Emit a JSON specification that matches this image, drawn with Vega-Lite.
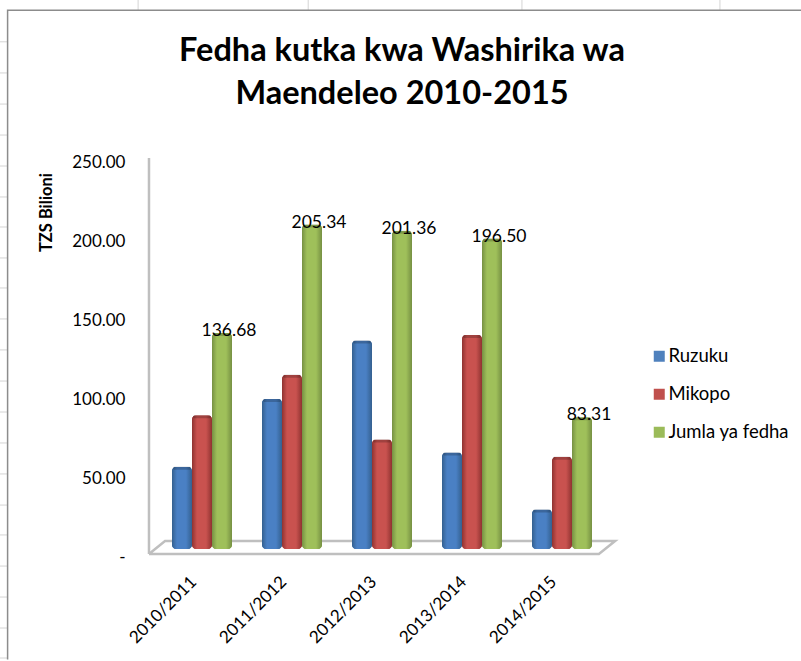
{
"$schema":"https://vega.github.io/schema/vega-lite/v6.json",
"width":450,"height":395,
"autosize":{"type":"none"},
"padding":{"left":157,"top":154,"right":194,"bottom":112},
"background":"white",
"view":{"stroke":null},
"title":{"text":["Fedha kutka kwa Washirika wa","Maendeleo 2010-2015"],"font":"Lato","fontSize":32.5,"fontWeight":"bold","color":"black","anchor":"middle","dx":20,"offset":-113,"lineHeight":43},
"config":{"font":"Lato"},
"datasets":{
"bars":[
{"year":"2010/2011","series":"Ruzuku","value":52.0},
{"year":"2010/2011","series":"Mikopo","value":84.68},
{"year":"2010/2011","series":"Jumla ya fedha","value":136.68},
{"year":"2011/2012","series":"Ruzuku","value":95.0},
{"year":"2011/2012","series":"Mikopo","value":110.34},
{"year":"2011/2012","series":"Jumla ya fedha","value":205.34},
{"year":"2012/2013","series":"Ruzuku","value":132.0},
{"year":"2012/2013","series":"Mikopo","value":69.36},
{"year":"2012/2013","series":"Jumla ya fedha","value":201.36},
{"year":"2013/2014","series":"Ruzuku","value":61.0},
{"year":"2013/2014","series":"Mikopo","value":135.5},
{"year":"2013/2014","series":"Jumla ya fedha","value":196.5},
{"year":"2014/2015","series":"Ruzuku","value":25.0},
{"year":"2014/2015","series":"Mikopo","value":58.31},
{"year":"2014/2015","series":"Jumla ya fedha","value":83.31}
],
"floor":[
{"u":-1.78,"v":247.5,"part":"wall"},{"u":-1.78,"v":-3.2,"part":"wall"},
{"u":-1.78,"v":-3.2,"part":"floor"},{"u":98.2,"v":-3.2,"part":"floor"},{"u":101.8,"v":5,"part":"floor"},{"u":1.78,"v":5,"part":"floor"},{"u":-1.78,"v":-3.2,"part":"floor"}
],
"frame":[
{"u":-33.2,"v":-70,"part":"a"},{"u":-33.2,"v":341,"part":"a"},{"u":145,"v":341,"part":"a"}
],
"sheet":[
{"u":-34.9,"v":321,"part":"r1"},{"u":-33.2,"v":321,"part":"r1"},
{"u":-34.9,"v":301.3,"part":"r2"},{"u":-33.2,"v":301.3,"part":"r2"},
{"u":-34.9,"v":281.6,"part":"r3"},{"u":-33.2,"v":281.6,"part":"r3"},
{"u":-34.9,"v":262,"part":"r4"},{"u":-33.2,"v":262,"part":"r4"},
{"u":-34.9,"v":242.4,"part":"r5"},{"u":-33.2,"v":242.4,"part":"r5"},
{"u":-34.9,"v":222.8,"part":"r6"},{"u":-33.2,"v":222.8,"part":"r6"},
{"u":-34.9,"v":203.8,"part":"r7"},{"u":-33.2,"v":203.8,"part":"r7"},
{"u":-34.9,"v":184.2,"part":"r8"},{"u":-33.2,"v":184.2,"part":"r8"},
{"u":-34.9,"v":165.2,"part":"r9"},{"u":-33.2,"v":165.2,"part":"r9"},
{"u":-34.9,"v":145.6,"part":"r10"},{"u":-33.2,"v":145.6,"part":"r10"},
{"u":-34.9,"v":126,"part":"r11"},{"u":-33.2,"v":126,"part":"r11"},
{"u":-34.9,"v":106.3,"part":"r12"},{"u":-33.2,"v":106.3,"part":"r12"},
{"u":-34.9,"v":86.7,"part":"r13"},{"u":-33.2,"v":86.7,"part":"r13"},
{"u":-34.9,"v":67.1,"part":"r14"},{"u":-33.2,"v":67.1,"part":"r14"},
{"u":-34.9,"v":47.5,"part":"r15"},{"u":-33.2,"v":47.5,"part":"r15"},
{"u":-34.9,"v":27.8,"part":"r16"},{"u":-33.2,"v":27.8,"part":"r16"},
{"u":-34.9,"v":8.9,"part":"r17"},{"u":-33.2,"v":8.9,"part":"r17"},
{"u":-34.9,"v":-10.8,"part":"r18"},{"u":-33.2,"v":-10.8,"part":"r18"},
{"u":-34.9,"v":-30.4,"part":"r19"},{"u":-33.2,"v":-30.4,"part":"r19"},
{"u":-34.9,"v":-50,"part":"r20"},{"u":-33.2,"v":-50,"part":"r20"},
{"u":-34.9,"v":-69,"part":"r21"},{"u":-33.2,"v":-69,"part":"r21"},
{"u":-4.2,"v":347.5,"part":"c1"},{"u":-4.2,"v":341,"part":"c1"},
{"u":33.6,"v":347.5,"part":"c2"},{"u":33.6,"v":341,"part":"c2"},
{"u":81.1,"v":347.5,"part":"c3"},{"u":81.1,"v":341,"part":"c3"},
{"u":125.1,"v":347.5,"part":"c4"},{"u":125.1,"v":341,"part":"c4"}
]
},
"resolve":{"scale":{"x":"independent"}},
"layer":[
{"data":{"name":"sheet"},"mark":{"type":"line","color":"#d4d4d4","strokeWidth":1,"clip":false},
"encoding":{"x":{"field":"u","type":"quantitative","scale":{"domain":[0,100]},"axis":null},"y":{"field":"v","type":"quantitative"},"order":{"field":"none"},"detail":{"field":"part"}}},
{"data":{"name":"frame"},"mark":{"type":"line","color":"#8c8c8c","strokeWidth":1.5,"clip":false},
"encoding":{"x":{"field":"u","type":"quantitative","scale":{"domain":[0,100]},"axis":null},"y":{"field":"v","type":"quantitative"},"order":{"field":"none"},"detail":{"field":"part"}}},
{"data":{"name":"floor"},"mark":{"type":"line","color":"#BFBFBF","strokeWidth":2.5,"clip":false},
"encoding":{"x":{"field":"u","type":"quantitative","scale":{"domain":[0,100]},"axis":null},"y":{"field":"v","type":"quantitative"},"order":{"field":"none"},"detail":{"field":"part"}}},
{"data":{"name":"bars"},
"encoding":{
"x":{"field":"year","type":"nominal","scale":{"paddingInner":0.3333,"paddingOuter":0.1667},"axis":{"title":null,"domain":false,"ticks":false,"labelAngle":-45,"labelAlign":"right","labelBaseline":"middle","labelFontSize":17,"labelColor":"black","labelFont":"Lato","labelPadding":30,"labelOffset":-8}},
"xOffset":{"field":"series","type":"nominal","scale":{"domain":["Ruzuku","Mikopo","Jumla ya fedha"],"paddingInner":0,"paddingOuter":0}},
"y":{"field":"value","type":"quantitative","scale":{"domain":[0,250],"nice":false},"axis":{"title":"TZS Bilioni","titleFont":"Lato","titleFontSize":16.5,"titleFontWeight":"bold","titleColor":"black","titleX":-103,"titleY":58,"values":[0,50,100,150,200,250],"labelExpr":"datum.value==0?'-\u00a0\u00a0\u00a0\u00a0':format(datum.value,'.2f')","grid":false,"domain":false,"ticks":false,"labelFontSize":17,"labelColor":"black","labelFont":"Lato","labelPadding":32,"labelOffset":8}}
},
"layer":[
{"mark":{"type":"bar","cornerRadius":4},
"encoding":{"color":{"field":"series","type":"nominal","scale":{"domain":["Ruzuku","Mikopo","Jumla ya fedha"],"range":["#4F81BD","#C0504D","#9BBB59"]},"legend":{"title":null,"orient":"none","legendX":493,"legendY":193,"symbolType":"square","symbolSize":121,"symbolOpacity":1,"labelFontSize":18.5,"labelColor":"black","labelFont":"Lato","rowPadding":19,"labelOffset":0}}}},
{"transform":[{"filter":"datum.series=='Ruzuku'"}],"mark":{"type":"bar","cornerRadius":4,"color":{"gradient":"linear","x1":0,"x2":1,"y1":0,"y2":0,"stops":[{"offset":0,"color":"#34608f"},{"offset":0.25,"color":"#4a80c4"},{"offset":0.7,"color":"#4a80c4"},{"offset":1,"color":"#34608f"}]}}},
{"transform":[{"filter":"datum.series=='Mikopo'"}],"mark":{"type":"bar","cornerRadius":4,"color":{"gradient":"linear","x1":0,"x2":1,"y1":0,"y2":0,"stops":[{"offset":0,"color":"#8f3331"},{"offset":0.25,"color":"#c9524f"},{"offset":0.7,"color":"#c9524f"},{"offset":1,"color":"#8f3331"}]}}},
{"transform":[{"filter":"datum.series=='Jumla ya fedha'"}],"mark":{"type":"bar","cornerRadius":4,"color":{"gradient":"linear","x1":0,"x2":1,"y1":0,"y2":0,"stops":[{"offset":0,"color":"#769043"},{"offset":0.25,"color":"#9fc05a"},{"offset":0.7,"color":"#9fc05a"},{"offset":1,"color":"#769043"}]}}},
{"mark":{"type":"tick","color":"black","opacity":0.2,"thickness":3,"size":18,"cornerRadius":2,"yOffset":1.5}},
{"transform":[{"filter":"datum.series=='Jumla ya fedha'"}],"mark":{"type":"text","baseline":"middle","dx":7,"dy":-2,"fontSize":17.5,"font":"Lato","color":"black"},
"encoding":{"text":{"field":"value","type":"quantitative","format":".2f"}}}
]}
]
}
